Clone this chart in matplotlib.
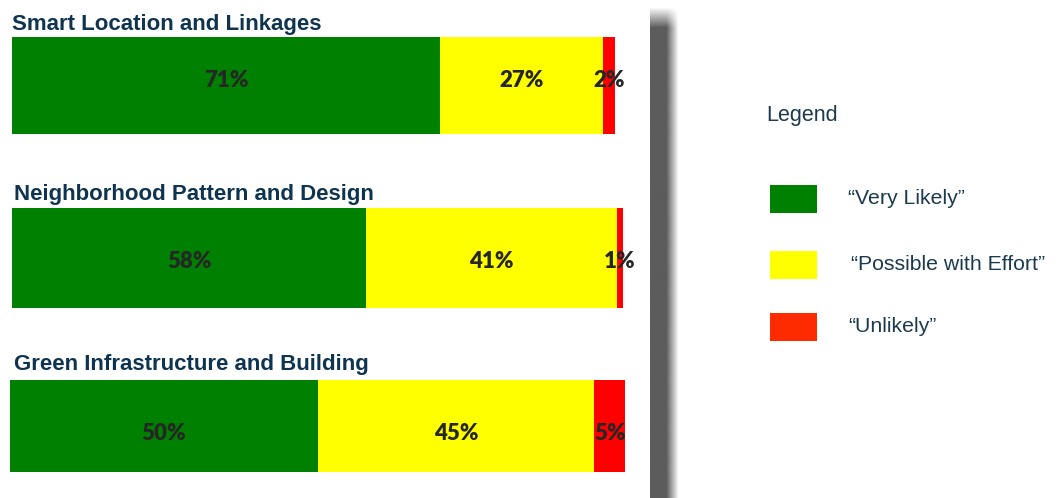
import numpy as np
import matplotlib
matplotlib.use("Agg")
import matplotlib.pyplot as plt
from matplotlib.patches import Rectangle

# ---- data ----
categories = ["Smart Location and Linkages",
              "Neighborhood Pattern and Design",
              "Green Infrastructure and Building"]
very_likely = [71, 58, 50]
possible = [27, 41, 45]
unlikely = [2, 1, 5]
series_names = ["\u201cVery Likely\u201d", "\u201cPossible with Effort\u201d", "\u201cUnlikely\u201d"]

W, H = 1063, 498
fig = plt.figure(figsize=(W / 100, H / 100), dpi=100)
fig.patch.set_facecolor("white")

def fx(x):
    return x / W

def fy(y):
    return 1 - y / H

bar_colors = ["#008000", "#ffff00", "#ff0000"]
legend_colors = ["#008000", "#ffff00", "#ff2b00"]
title_color = "#0e3450"
label_color = "#262626"

# pixel boxes (left, right, top, bottom) for each bar, title baseline
boxes = [(12, 615, 37, 134), (12, 623, 208, 308), (10, 625, 380, 472)]
title_pos = [(12, 30), (14, 200), (14, 370)]
label_dy = [0.05, -0.04, -0.08]   # small vertical offsets of the value labels

for i, cat in enumerate(categories):
    l, r, t, b = boxes[i]
    ax = fig.add_axes([fx(l), fy(b), fx(r) - fx(l), fy(t) - fy(b)])
    vals = [very_likely[i], possible[i], unlikely[i]]
    left = 0
    for v, c in zip(vals, bar_colors):
        ax.barh(0, v, left=left, height=1.0, color=c, edgecolor="none")
        ax.text(left + v / 2, label_dy[i], f"{v}%", ha="center", va="center",
                fontsize=16, fontweight="heavy", color=label_color,
                family=["Lato", "DejaVu Sans"], clip_on=False)
        left += v
    ax.set_xlim(0, sum(vals))
    ax.set_ylim(-0.5, 0.5)
    ax.axis("off")
    tx, ty = title_pos[i]
    fig.text(fx(tx), fy(ty), cat, ha="left", va="baseline", fontsize=16,
             fontweight="bold", color=title_color,
             family=["Liberation Sans", "DejaVu Sans"])

# ---- shadow strip ----
sh_l, sh_r, sh_t = 650, 680, 8
sw, shh = sh_r - sh_l, H - sh_t
xs = np.arange(sw)
hx = np.clip(1 - (xs - 16) / 12.0, 0, 1)
ys = np.arange(shh)
vy = np.clip(ys / 20.0, 0, 1)
alpha = np.outer(vy, hx)
img = np.zeros((shh, sw, 4))
img[..., 0:3] = 0x5c / 255
img[..., 3] = alpha
sax = fig.add_axes([fx(sh_l), 0, fx(sh_r) - fx(sh_l), fy(sh_t)])
sax.imshow(img, aspect="auto", interpolation="bilinear")
sax.axis("off")

# ---- legend ----
fig.text(fx(766), fy(116), "Legend", ha="left", va="center", fontsize=15.5,
         color="#1c3a4e", family=["Liberation Sans", "DejaVu Sans"])
patch_y = [(185, 213), (251, 279), (313, 341)]
text_x = [848, 851, 848]
for (t, b), c, name, tx in zip(patch_y, legend_colors, series_names, text_x):
    fig.patches.append(Rectangle((fx(770), fy(b)), fx(817) - fx(770), fy(t) - fy(b),
                                 transform=fig.transFigure, facecolor=c,
                                 edgecolor="none"))
    fig.text(fx(tx), fy((t + b) / 2), name, ha="left", va="center", fontsize=15.3,
             color="#1c3a4e", family=["Liberation Sans", "DejaVu Sans"])

fig.savefig("out.png", dpi=100, facecolor="white")
